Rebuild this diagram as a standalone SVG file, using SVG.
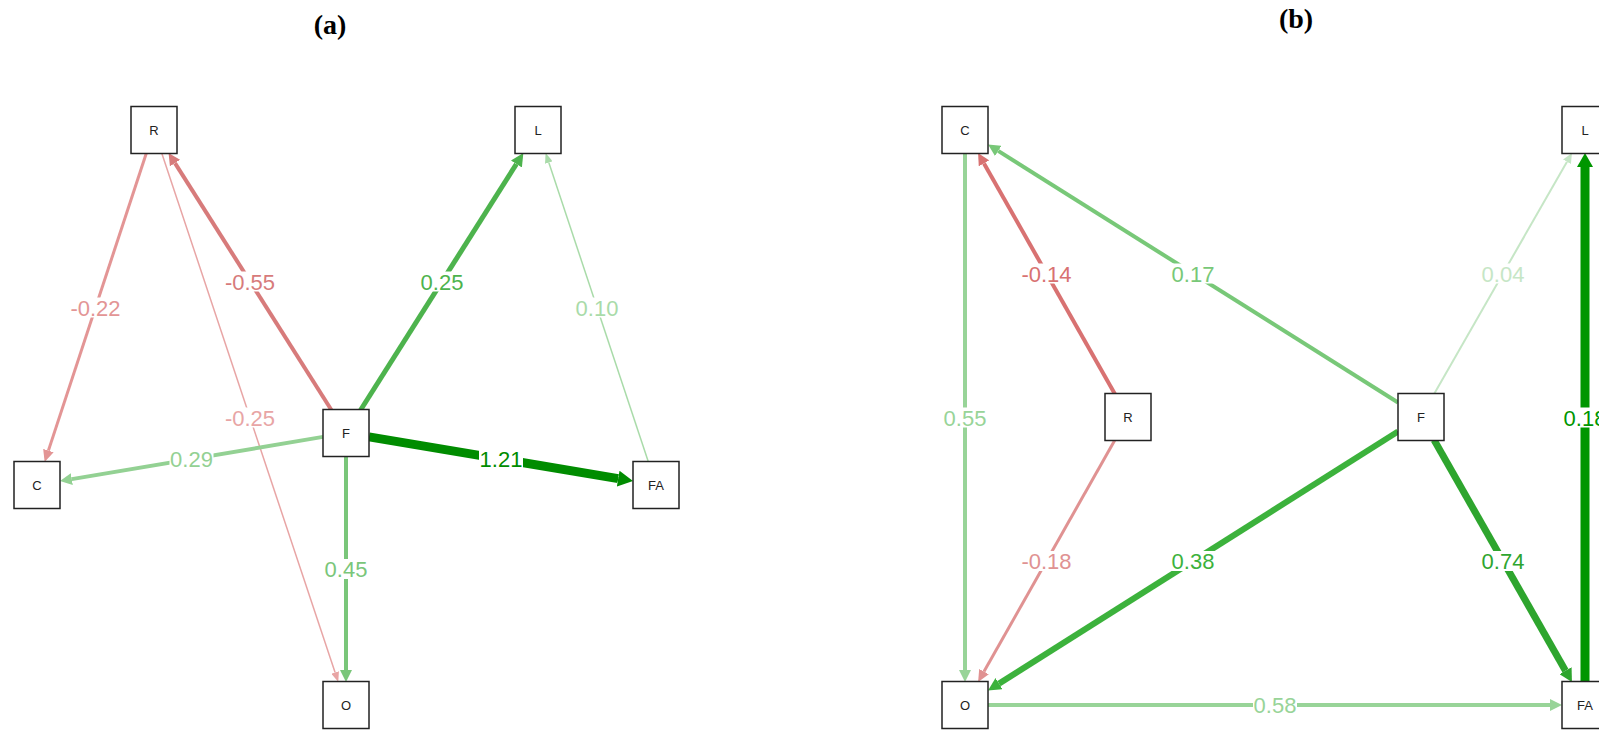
<svg xmlns="http://www.w3.org/2000/svg" width="1599" height="730" viewBox="0 0 1599 730">
<style>
.node rect{fill:#fff;stroke:#222;stroke-width:1.5}
.node text{font-family:"Liberation Sans",Arial,sans-serif;font-size:13px;fill:#222;text-anchor:middle}
.e{fill:none;stroke-linecap:butt}
.lbl rect{fill:#fff}
.lbl text{font-family:"Liberation Sans",Arial,sans-serif;font-size:22px;text-anchor:middle}
.title{font-family:"Liberation Serif","Times New Roman",serif;font-weight:bold;font-size:28px;text-anchor:middle;fill:#000}
</style>
<defs>
<marker id="m-a22" viewBox="0 0 12 11" refX="0" refY="5.5" markerWidth="12" markerHeight="11" markerUnits="userSpaceOnUse" orient="auto"><path d="M0,0 L12,5.5 L0,11 z" fill="#e39595"/></marker>
<marker id="m-a55" viewBox="0 0 12 12" refX="0" refY="6" markerWidth="12" markerHeight="12" markerUnits="userSpaceOnUse" orient="auto"><path d="M0,0 L12,6 L0,12 z" fill="#d77b7b"/></marker>
<marker id="m-a25" viewBox="0 0 10 8" refX="0" refY="4" markerWidth="10" markerHeight="8" markerUnits="userSpaceOnUse" orient="auto"><path d="M0,0 L10,4 L0,8 z" fill="#e8a5a5"/></marker>
<marker id="m-ga25" viewBox="0 0 13 13" refX="0" refY="6.5" markerWidth="13" markerHeight="13" markerUnits="userSpaceOnUse" orient="auto"><path d="M0,0 L13,6.5 L0,13 z" fill="#4db34d"/></marker>
<marker id="m-ga10" viewBox="0 0 10 8" refX="0" refY="4" markerWidth="10" markerHeight="8" markerUnits="userSpaceOnUse" orient="auto"><path d="M0,0 L10,4 L0,8 z" fill="#a9dba9"/></marker>
<marker id="m-ga121" viewBox="0 0 15 16" refX="0" refY="8" markerWidth="15" markerHeight="16" markerUnits="userSpaceOnUse" orient="auto"><path d="M0,0 L15,8 L0,16 z" fill="#008c00"/></marker>
<marker id="m-ga29" viewBox="0 0 12 12" refX="0" refY="6" markerWidth="12" markerHeight="12" markerUnits="userSpaceOnUse" orient="auto"><path d="M0,0 L12,6 L0,12 z" fill="#93d193"/></marker>
<marker id="m-ga45" viewBox="0 0 12 12" refX="0" refY="6" markerWidth="12" markerHeight="12" markerUnits="userSpaceOnUse" orient="auto"><path d="M0,0 L12,6 L0,12 z" fill="#7ac67a"/></marker>
<marker id="m-rb14" viewBox="0 0 12 12" refX="0" refY="6" markerWidth="12" markerHeight="12" markerUnits="userSpaceOnUse" orient="auto"><path d="M0,0 L12,6 L0,12 z" fill="#d87272"/></marker>
<marker id="m-gb17" viewBox="0 0 12 12" refX="0" refY="6" markerWidth="12" markerHeight="12" markerUnits="userSpaceOnUse" orient="auto"><path d="M0,0 L12,6 L0,12 z" fill="#78c878"/></marker>
<marker id="m-gb55" viewBox="0 0 12 12" refX="0" refY="6" markerWidth="12" markerHeight="12" markerUnits="userSpaceOnUse" orient="auto"><path d="M0,0 L12,6 L0,12 z" fill="#98d498"/></marker>
<marker id="m-rb18" viewBox="0 0 12 11" refX="0" refY="5.5" markerWidth="12" markerHeight="11" markerUnits="userSpaceOnUse" orient="auto"><path d="M0,0 L12,5.5 L0,11 z" fill="#e09292"/></marker>
<marker id="m-gb38" viewBox="0 0 13 13" refX="0" refY="6.5" markerWidth="13" markerHeight="13" markerUnits="userSpaceOnUse" orient="auto"><path d="M0,0 L13,6.5 L0,13 z" fill="#3cb23c"/></marker>
<marker id="m-gb04" viewBox="0 0 10 9" refX="0" refY="4.5" markerWidth="10" markerHeight="9" markerUnits="userSpaceOnUse" orient="auto"><path d="M0,0 L10,4.5 L0,9 z" fill="#c6e6c6"/></marker>
<marker id="m-gb74" viewBox="0 0 13 14" refX="0" refY="7" markerWidth="13" markerHeight="14" markerUnits="userSpaceOnUse" orient="auto"><path d="M0,0 L13,7 L0,14 z" fill="#2ea52e"/></marker>
<marker id="m-gb58" viewBox="0 0 12 12" refX="0" refY="6" markerWidth="12" markerHeight="12" markerUnits="userSpaceOnUse" orient="auto"><path d="M0,0 L12,6 L0,12 z" fill="#98d498"/></marker>
<marker id="m-gb18" viewBox="0 0 14 16" refX="0" refY="8" markerWidth="14" markerHeight="16" markerUnits="userSpaceOnUse" orient="auto"><path d="M0,0 L14,8 L0,16 z" fill="#009600"/></marker>
</defs>
<rect width="1599" height="730" fill="#fff"/>
<text class="title" x="330" y="34">(a)</text>
<text class="title" x="1296" y="28">(b)</text>

<g id="connectors">
<!-- panel a -->
<line class="e" x1="146.4" y1="153" x2="48.4" y2="450.6" stroke="#e39595" stroke-width="3" marker-end="url(#m-a22)"/>
<line class="e" x1="331.4" y1="410" x2="175" y2="163.1" stroke="#d77b7b" stroke-width="4" marker-end="url(#m-a55)"/>
<line class="e" x1="161.7" y1="153" x2="335.1" y2="672.5" stroke="#e8a5a5" stroke-width="1.5" marker-end="url(#m-a25)"/>
<line class="e" x1="360.6" y1="410" x2="516.4" y2="164" stroke="#4db34d" stroke-width="5" marker-end="url(#m-ga25)"/>
<line class="e" x1="648.4" y1="462" x2="548.8" y2="162.5" stroke="#a9dba9" stroke-width="1.5" marker-end="url(#m-ga10)"/>
<line class="e" x1="369" y1="436.9" x2="618.2" y2="478.6" stroke="#008c00" stroke-width="9" marker-end="url(#m-ga121)"/>
<line class="e" x1="323" y1="436.9" x2="71.8" y2="479.1" stroke="#93d193" stroke-width="4" marker-end="url(#m-ga29)"/>
<line class="e" x1="346" y1="456.5" x2="346" y2="670" stroke="#7ac67a" stroke-width="4" marker-end="url(#m-ga45)"/>
<!-- panel b -->
<line class="e" x1="1114.9" y1="394" x2="984" y2="163.4" stroke="#d87272" stroke-width="4" marker-end="url(#m-rb14)"/>
<line class="e" x1="1398" y1="402.5" x2="998.2" y2="150.9" stroke="#78c878" stroke-width="4" marker-end="url(#m-gb17)"/>
<line class="e" x1="965" y1="153.5" x2="965" y2="670" stroke="#98d498" stroke-width="4" marker-end="url(#m-gb55)"/>
<line class="e" x1="1114.9" y1="440" x2="984" y2="671.6" stroke="#e09292" stroke-width="3" marker-end="url(#m-rb18)"/>
<line class="e" x1="1398" y1="431.5" x2="999" y2="683.6" stroke="#3cb23c" stroke-width="6" marker-end="url(#m-gb38)"/>
<line class="e" x1="1434.1" y1="394" x2="1567" y2="161.7" stroke="#c6e6c6" stroke-width="2" marker-end="url(#m-gb04)"/>
<line class="e" x1="1434.1" y1="440" x2="1565.5" y2="670.7" stroke="#2ea52e" stroke-width="7" marker-end="url(#m-gb74)"/>
<line class="e" x1="988" y1="705" x2="1550" y2="705" stroke="#98d498" stroke-width="4" marker-end="url(#m-gb58)"/>
<line class="e" x1="1585" y1="681.5" x2="1585" y2="167" stroke="#009600" stroke-width="9" marker-end="url(#m-gb18)"/>
</g>

<g id="edge-labels">
<g class="lbl"><rect x="69.5" y="297.5" width="52" height="20"/><text x="95.5" y="315.5" fill="#e39595">-0.22</text></g>
<g class="lbl"><rect x="224" y="271.5" width="52" height="20"/><text x="250" y="289.5" fill="#d77b7b">-0.55</text></g>
<g class="lbl"><rect x="224" y="407.5" width="52" height="20"/><text x="250" y="425.5" fill="#e8a5a5">-0.25</text></g>
<g class="lbl"><rect x="420" y="271.5" width="44" height="20"/><text x="442" y="289.5" fill="#4db34d">0.25</text></g>
<g class="lbl"><rect x="575" y="297.5" width="44" height="20"/><text x="597" y="315.5" fill="#a9dba9">0.10</text></g>
<g class="lbl"><rect x="479" y="449" width="44" height="20"/><text x="501" y="467" fill="#008c00">1.21</text></g>
<g class="lbl"><rect x="169.5" y="449" width="44" height="20"/><text x="191.5" y="467" fill="#93d193">0.29</text></g>
<g class="lbl"><rect x="324" y="559" width="44" height="20"/><text x="346" y="577" fill="#7ac67a">0.45</text></g>

<g class="lbl"><rect x="1020.5" y="263.5" width="52" height="20"/><text x="1046.5" y="281.5" fill="#d87272">-0.14</text></g>
<g class="lbl"><rect x="1171" y="263.5" width="44" height="20"/><text x="1193" y="281.5" fill="#78c878">0.17</text></g>
<g class="lbl"><rect x="943" y="407.5" width="44" height="20"/><text x="965" y="425.5" fill="#98d498">0.55</text></g>
<g class="lbl"><rect x="1020.5" y="551" width="52" height="20"/><text x="1046.5" y="569" fill="#e09292">-0.18</text></g>
<g class="lbl"><rect x="1171" y="551" width="44" height="20"/><text x="1193" y="569" fill="#3cb23c">0.38</text></g>
<g class="lbl"><rect x="1481" y="263.5" width="44" height="20"/><text x="1503" y="281.5" fill="#c6e6c6">0.04</text></g>
<g class="lbl"><rect x="1481" y="551" width="44" height="20"/><text x="1503" y="569" fill="#2ea52e">0.74</text></g>
<g class="lbl"><rect x="1253" y="695" width="44" height="20"/><text x="1275" y="713" fill="#98d498">0.58</text></g>
<g class="lbl"><rect x="1563" y="407.5" width="44" height="20"/><text x="1585" y="425.5" fill="#009600">0.18</text></g>
</g>

<g id="a-R" class="node"><rect x="131" y="106.5" width="46" height="47"/><text x="154" y="134.5">R</text></g>
<g id="a-L" class="node"><rect x="515" y="106.5" width="46" height="47"/><text x="538" y="134.5">L</text></g>
<g id="a-F" class="node"><rect x="323" y="409.5" width="46" height="47"/><text x="346" y="437.5">F</text></g>
<g id="a-C" class="node"><rect x="14" y="461.5" width="46" height="47"/><text x="37" y="489.5">C</text></g>
<g id="a-FA" class="node"><rect x="633" y="461.5" width="46" height="47"/><text x="656" y="489.5">FA</text></g>
<g id="a-O" class="node"><rect x="323" y="681.5" width="46" height="47"/><text x="346" y="709.5">O</text></g>

<g id="b-C" class="node"><rect x="942" y="106.5" width="46" height="47"/><text x="965" y="134.5">C</text></g>
<g id="b-L" class="node"><rect x="1562" y="106.5" width="46" height="47"/><text x="1585" y="134.5">L</text></g>
<g id="b-R" class="node"><rect x="1105" y="393.5" width="46" height="47"/><text x="1128" y="421.5">R</text></g>
<g id="b-F" class="node"><rect x="1398" y="393.5" width="46" height="47"/><text x="1421" y="421.5">F</text></g>
<g id="b-O" class="node"><rect x="942" y="681.5" width="46" height="47"/><text x="965" y="709.5">O</text></g>
<g id="b-FA" class="node"><rect x="1562" y="681.5" width="46" height="47"/><text x="1585" y="709.5">FA</text></g>
</svg>
